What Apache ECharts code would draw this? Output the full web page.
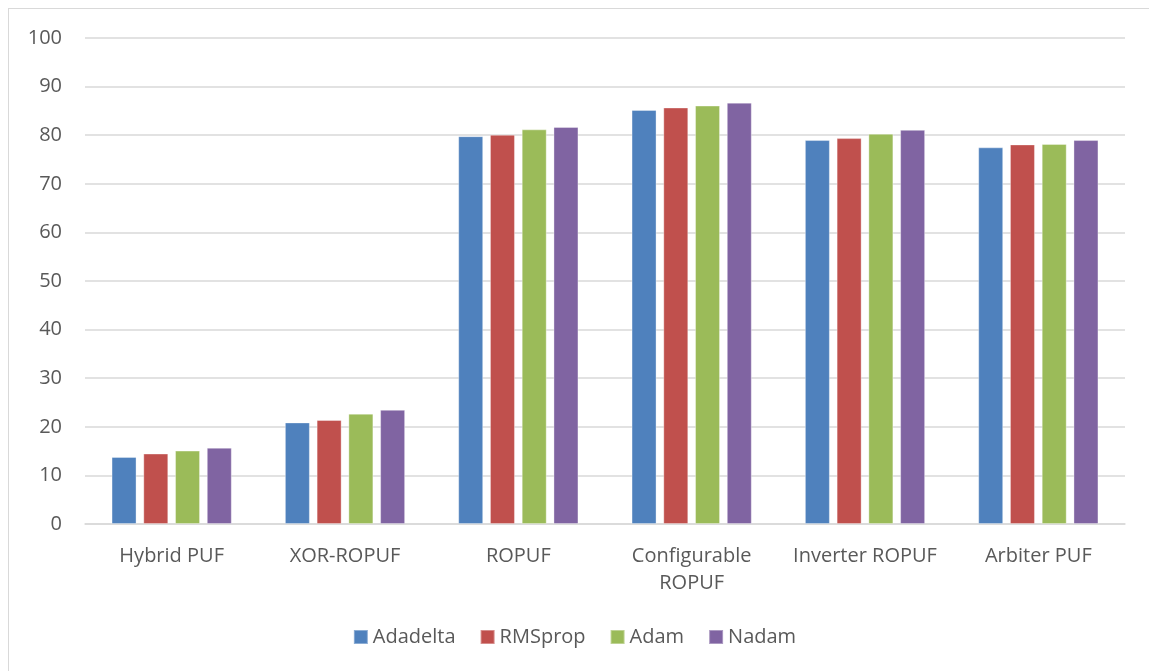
<!DOCTYPE html>
<html>
<head>
<meta charset="utf-8">
<script src="https://cdn.jsdelivr.net/npm/echarts@6/dist/echarts.min.js"></script>
<style>
  html, body { margin: 0; padding: 0; background: #fff; }
  #frame { position: absolute; left: 8px; top: 8px; width: 1150px; height: 680px; border: 1px solid #d9d9d9; box-sizing: border-box; }
  #chart { position: absolute; left: 0; top: 0; width: 1149px; height: 671px; }
</style>
</head>
<body>
<div id="frame"></div>
<div id="chart"></div>
<script>
// Accuracy (%) of each PUF model per optimizer
const categories = ['Hybrid PUF', 'XOR-ROPUF', 'ROPUF', 'Configurable\nROPUF', 'Inverter ROPUF', 'Arbiter PUF'];
const adadelta = [13.8, 20.9, 79.8, 85.2, 79.0, 77.5];
const rmsprop  = [14.5, 21.4, 80.1, 85.7, 79.4, 78.1];
const adam     = [15.1, 22.7, 81.2, 86.1, 80.3, 78.2];
const nadam    = [15.7, 23.5, 81.7, 86.7, 81.1, 79.0];
const seriesNames = ['Adadelta', 'RMSprop', 'Adam', 'Nadam'];
const seriesColors = ['#4f81bd', '#c0504d', '#9bbb59', '#8064a2'];

const font = '"Open Sans", "Noto Sans", sans-serif';
const chart = echarts.init(document.getElementById('chart'), null, { renderer: 'canvas' });

const makeSeries = (name, data, color) => ({
  name, type: 'bar', data,
  barWidth: 25, barGap: '27%',
  itemStyle: { color, borderColor: 'rgba(255,255,255,0.35)', borderWidth: 1 },
  emphasis: { disabled: true }
});

chart.setOption({
  animation: false,
  textStyle: { fontFamily: font },
  grid: { left: 85, right: 24, top: 38, bottom: 147, containLabel: false },
  legend: {
    bottom: 19, left: 'center',
    itemWidth: 14, itemHeight: 14, itemGap: 24,
    icon: 'rect',
    textStyle: { fontSize: 20, color: '#595959', fontFamily: font },
    data: seriesNames
  },
  xAxis: {
    type: 'category', data: categories,
    axisLine: { lineStyle: { color: '#d9d9d9', width: 1.5 } },
    axisTick: { show: false },
    axisLabel: { fontSize: 20, color: '#595959', margin: 19, lineHeight: 27, interval: 0, fontFamily: font }
  },
  yAxis: {
    type: 'value', min: 0, max: 100, interval: 10,
    axisLine: { show: false }, axisTick: { show: false },
    axisLabel: { fontSize: 20, color: '#595959', margin: 23, fontFamily: font },
    splitLine: { lineStyle: { color: '#d9d9d9', width: 1.5 } }
  },
  series: [
    makeSeries(seriesNames[0], adadelta, seriesColors[0]),
    makeSeries(seriesNames[1], rmsprop, seriesColors[1]),
    makeSeries(seriesNames[2], adam, seriesColors[2]),
    makeSeries(seriesNames[3], nadam, seriesColors[3])
  ]
});
</script>
</body>
</html>
